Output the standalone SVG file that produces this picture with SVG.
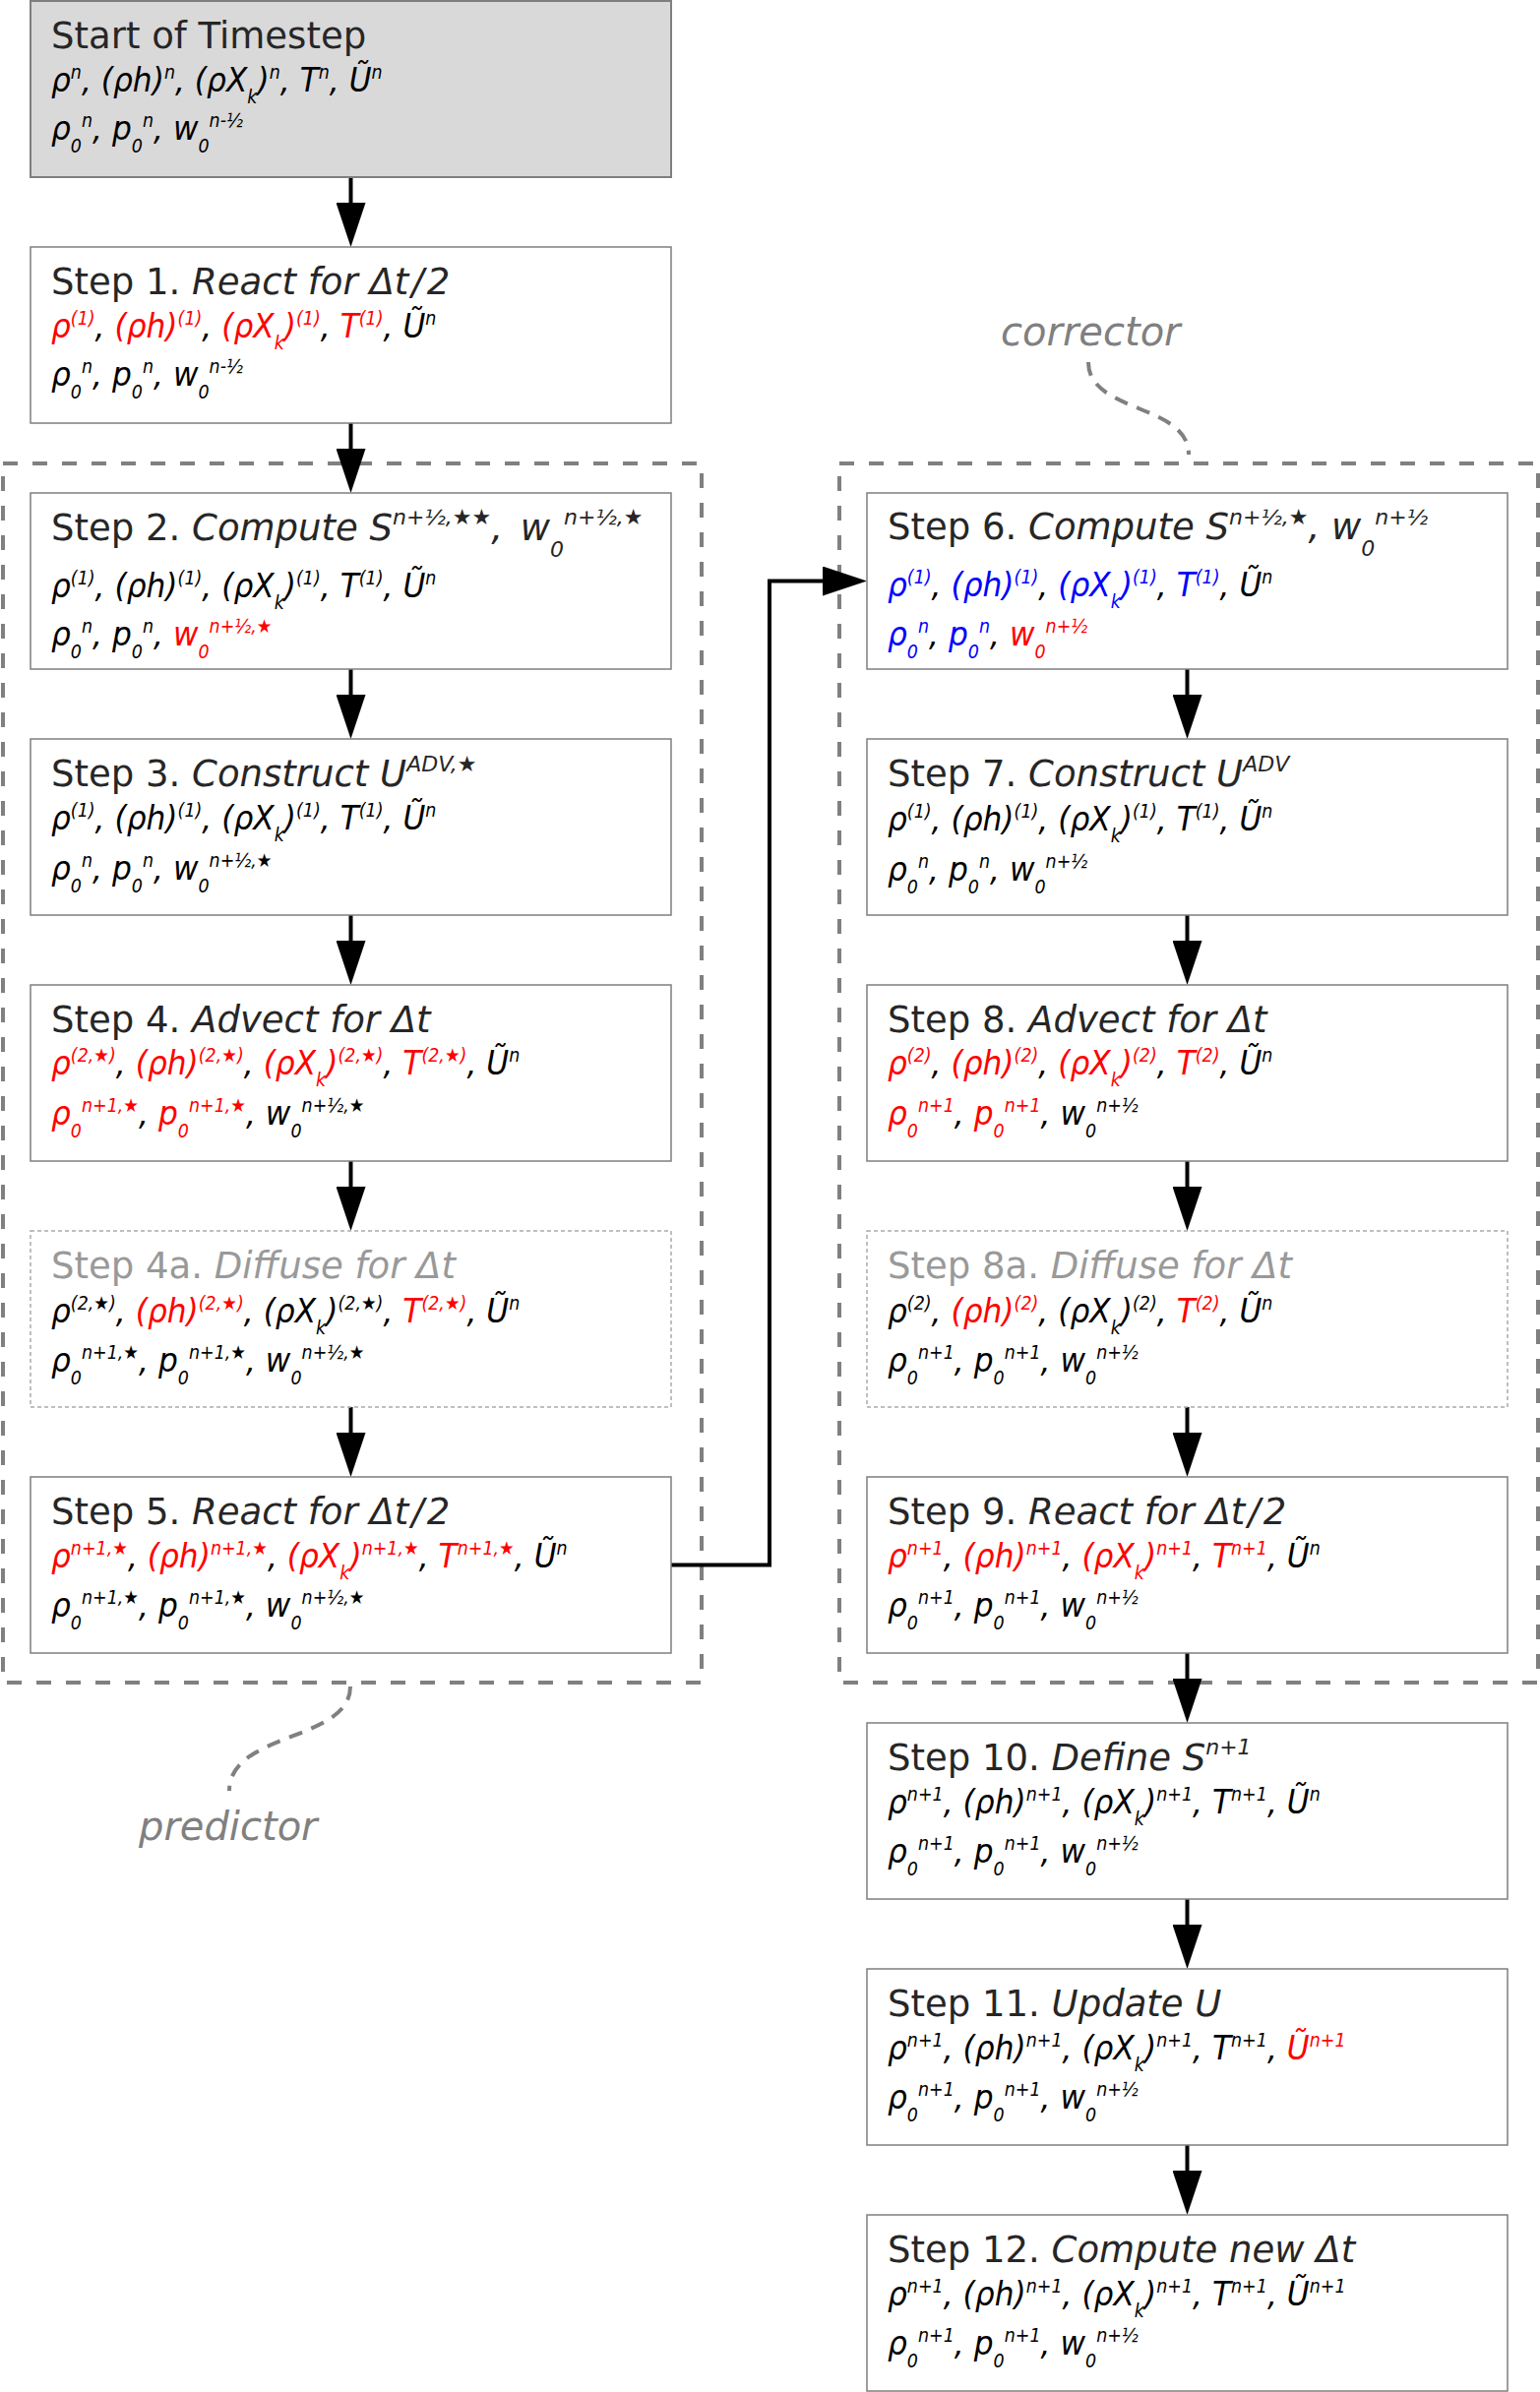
<svg xmlns="http://www.w3.org/2000/svg" width="1565" height="2431" viewBox="0 0 1565 2431">
<style>
.box{fill:#fff;stroke:#7f7f7f;stroke-width:1.5}
.start{fill:#d9d9d9;stroke:#7f7f7f;stroke-width:2}
.opt{fill:#fff;stroke:#aaa;stroke-width:1.5;stroke-dasharray:4 3}
.frame{fill:none;stroke:#808080;stroke-width:4;stroke-dasharray:15 15}
.curve{fill:none;stroke:#808080;stroke-width:4;stroke-dasharray:14 10}
.conn{fill:none;stroke:#000;stroke-width:4}
.ti{font-family:"DejaVu Sans",sans-serif;font-size:37px;fill:#262626}
.it{font-style:italic}
.gt{fill:#999}
.ts{font-size:22px}
.bd{font-family:"DejaVu Sans",sans-serif;font-size:34px;font-style:italic;fill:#000}
.s{font-size:19px}
.k{fill:#000}
.r{fill:#f00}
.u{fill:#00f}
.lbl{font-family:"DejaVu Sans",sans-serif;font-size:40px;font-style:italic;fill:#808080}
</style>
<defs>
<marker id="ah" markerUnits="userSpaceOnUse" markerWidth="46" markerHeight="30" viewBox="0 0 45 30" refX="25" refY="15" orient="auto"><path d="M0,0 L45,15 L0,30 z" fill="#000"/></marker>
</defs>

<g id="predictor">
<rect class="frame" x="3" y="471" width="710" height="1239"/>
<path class="curve" d="M356,1714 C356,1770 233,1760 233,1820"/>
<text class="lbl" x="141" y="1870">predictor</text>
</g>
<g id="corrector">
<rect class="frame" x="853" y="471" width="710" height="1239"/>
<path class="curve" d="M1106,368 C1106,420 1208,410 1208,462"/>
<text class="lbl" x="1017" y="351">corrector</text>
</g>

<g id="connectors">
<path class="conn" marker-end="url(#ah)" d="M356.5,180 V231"/>
<path class="conn" marker-end="url(#ah)" d="M356.5,430 V481"/>
<path class="conn" marker-end="url(#ah)" d="M356.5,680 V731"/>
<path class="conn" marker-end="url(#ah)" d="M356.5,930 V981"/>
<path class="conn" marker-end="url(#ah)" d="M356.5,1180 V1231"/>
<path class="conn" marker-end="url(#ah)" d="M356.5,1430 V1481"/>
<path class="conn" marker-end="url(#ah)" d="M682,1590.5 H782 V590.5 H861"/>
<path class="conn" marker-end="url(#ah)" d="M1206.5,680 V731"/>
<path class="conn" marker-end="url(#ah)" d="M1206.5,930 V981"/>
<path class="conn" marker-end="url(#ah)" d="M1206.5,1180 V1231"/>
<path class="conn" marker-end="url(#ah)" d="M1206.5,1430 V1481"/>
<path class="conn" marker-end="url(#ah)" d="M1206.5,1680 V1731"/>
<path class="conn" marker-end="url(#ah)" d="M1206.5,1930 V1981"/>
<path class="conn" marker-end="url(#ah)" d="M1206.5,2180 V2231"/>
</g>

<g id="start">
<rect class="start" x="31" y="1" width="651" height="179"/>
<text class="ti" x="52" y="49">Start of Timestep</text>
<g transform="translate(52,93) scale(0.92,1)"><text class="bd"><tspan class="k">ρ</tspan><tspan class="s k" dy="-13">n</tspan><tspan dy="13">, </tspan><tspan class="k">(ρh)</tspan><tspan class="s k" dy="-13">n</tspan><tspan dy="13">, </tspan><tspan class="k">(ρX</tspan><tspan class="s k" dy="12">k</tspan><tspan class="k" dy="-12">)</tspan><tspan class="s k" dy="-13">n</tspan><tspan dy="13">, </tspan><tspan class="k">T</tspan><tspan class="s k" dy="-13">n</tspan><tspan dy="13">, </tspan><tspan class="k">Ũ</tspan><tspan class="s k" dy="-13">n</tspan></text></g>
<g transform="translate(52,142) scale(0.92,1)"><text class="bd"><tspan class="k">ρ</tspan><tspan class="s k" dy="13">0</tspan><tspan class="s k" dy="-26">n</tspan><tspan dy="13">, </tspan><tspan class="k">p</tspan><tspan class="s k" dy="13">0</tspan><tspan class="s k" dy="-26">n</tspan><tspan dy="13">, </tspan><tspan class="k">w</tspan><tspan class="s k" dy="13">0</tspan><tspan class="s k" dy="-26">n-½</tspan></text></g>
</g>

<g id="step1">
<rect class="box" x="31" y="251" width="651" height="179"/>
<text class="ti" x="52" y="299">Step 1. <tspan class="it">React for Δt</tspan><tspan class="it" dx="3">/</tspan><tspan class="it" dx="3">2</tspan></text>
<g transform="translate(52,343) scale(0.92,1)"><text class="bd"><tspan class="r">ρ</tspan><tspan class="s r" dy="-13">(1)</tspan><tspan dy="13">, </tspan><tspan class="r">(ρh)</tspan><tspan class="s r" dy="-13">(1)</tspan><tspan dy="13">, </tspan><tspan class="r">(ρX</tspan><tspan class="s r" dy="12">k</tspan><tspan class="r" dy="-12">)</tspan><tspan class="s r" dy="-13">(1)</tspan><tspan dy="13">, </tspan><tspan class="r">T</tspan><tspan class="s r" dy="-13">(1)</tspan><tspan dy="13">, </tspan><tspan class="k">Ũ</tspan><tspan class="s k" dy="-13">n</tspan></text></g>
<g transform="translate(52,392) scale(0.92,1)"><text class="bd"><tspan class="k">ρ</tspan><tspan class="s k" dy="13">0</tspan><tspan class="s k" dy="-26">n</tspan><tspan dy="13">, </tspan><tspan class="k">p</tspan><tspan class="s k" dy="13">0</tspan><tspan class="s k" dy="-26">n</tspan><tspan dy="13">, </tspan><tspan class="k">w</tspan><tspan class="s k" dy="13">0</tspan><tspan class="s k" dy="-26">n-½</tspan></text></g>
</g>

<g id="step2">
<rect class="box" x="31" y="501" width="651" height="179"/>
<text class="ti" x="52" y="549">Step 2. <tspan class="it">Compute S</tspan><tspan class="it ts" dy="-16">n+½,★★</tspan><tspan class="it" dy="16">, </tspan><tspan class="it" dx="6">w</tspan><tspan class="it ts" dy="17">0</tspan><tspan class="it ts" dy="-33">n+½,★</tspan></text>
<g transform="translate(52,607) scale(0.92,1)"><text class="bd"><tspan class="k">ρ</tspan><tspan class="s k" dy="-13">(1)</tspan><tspan dy="13">, </tspan><tspan class="k">(ρh)</tspan><tspan class="s k" dy="-13">(1)</tspan><tspan dy="13">, </tspan><tspan class="k">(ρX</tspan><tspan class="s k" dy="12">k</tspan><tspan class="k" dy="-12">)</tspan><tspan class="s k" dy="-13">(1)</tspan><tspan dy="13">, </tspan><tspan class="k">T</tspan><tspan class="s k" dy="-13">(1)</tspan><tspan dy="13">, </tspan><tspan class="k">Ũ</tspan><tspan class="s k" dy="-13">n</tspan></text></g>
<g transform="translate(52,656) scale(0.92,1)"><text class="bd"><tspan class="k">ρ</tspan><tspan class="s k" dy="13">0</tspan><tspan class="s k" dy="-26">n</tspan><tspan dy="13">, </tspan><tspan class="k">p</tspan><tspan class="s k" dy="13">0</tspan><tspan class="s k" dy="-26">n</tspan><tspan dy="13">, </tspan><tspan class="r">w</tspan><tspan class="s r" dy="13">0</tspan><tspan class="s r" dy="-26">n+½,★</tspan></text></g>
</g>

<g id="step3">
<rect class="box" x="31" y="751" width="651" height="179"/>
<text class="ti" x="52" y="799">Step 3. <tspan class="it">Construct U</tspan><tspan class="it ts" dy="-15">ADV,★</tspan></text>
<g transform="translate(52,843) scale(0.92,1)"><text class="bd"><tspan class="k">ρ</tspan><tspan class="s k" dy="-13">(1)</tspan><tspan dy="13">, </tspan><tspan class="k">(ρh)</tspan><tspan class="s k" dy="-13">(1)</tspan><tspan dy="13">, </tspan><tspan class="k">(ρX</tspan><tspan class="s k" dy="12">k</tspan><tspan class="k" dy="-12">)</tspan><tspan class="s k" dy="-13">(1)</tspan><tspan dy="13">, </tspan><tspan class="k">T</tspan><tspan class="s k" dy="-13">(1)</tspan><tspan dy="13">, </tspan><tspan class="k">Ũ</tspan><tspan class="s k" dy="-13">n</tspan></text></g>
<g transform="translate(52,894) scale(0.92,1)"><text class="bd"><tspan class="k">ρ</tspan><tspan class="s k" dy="13">0</tspan><tspan class="s k" dy="-26">n</tspan><tspan dy="13">, </tspan><tspan class="k">p</tspan><tspan class="s k" dy="13">0</tspan><tspan class="s k" dy="-26">n</tspan><tspan dy="13">, </tspan><tspan class="k">w</tspan><tspan class="s k" dy="13">0</tspan><tspan class="s k" dy="-26">n+½,★</tspan></text></g>
</g>

<g id="step4">
<rect class="box" x="31" y="1001" width="651" height="179"/>
<text class="ti" x="52" y="1049">Step 4. <tspan class="it">Advect for Δt</tspan></text>
<g transform="translate(52,1092) scale(0.92,1)"><text class="bd"><tspan class="r">ρ</tspan><tspan class="s r" dy="-13">(2,★)</tspan><tspan dy="13">, </tspan><tspan class="r">(ρh)</tspan><tspan class="s r" dy="-13">(2,★)</tspan><tspan dy="13">, </tspan><tspan class="r">(ρX</tspan><tspan class="s r" dy="12">k</tspan><tspan class="r" dy="-12">)</tspan><tspan class="s r" dy="-13">(2,★)</tspan><tspan dy="13">, </tspan><tspan class="r">T</tspan><tspan class="s r" dy="-13">(2,★)</tspan><tspan dy="13">, </tspan><tspan class="k">Ũ</tspan><tspan class="s k" dy="-13">n</tspan></text></g>
<g transform="translate(52,1143) scale(0.92,1)"><text class="bd"><tspan class="r">ρ</tspan><tspan class="s r" dy="13">0</tspan><tspan class="s r" dy="-26">n+1,★</tspan><tspan dy="13">, </tspan><tspan class="r">p</tspan><tspan class="s r" dy="13">0</tspan><tspan class="s r" dy="-26">n+1,★</tspan><tspan dy="13">, </tspan><tspan class="k">w</tspan><tspan class="s k" dy="13">0</tspan><tspan class="s k" dy="-26">n+½,★</tspan></text></g>
</g>

<g id="step4a">
<rect class="opt" x="31" y="1251" width="651" height="179"/>
<text class="ti gt" x="52" y="1299">Step 4a. <tspan class="it">Diffuse for Δt</tspan></text>
<g transform="translate(52,1344) scale(0.92,1)"><text class="bd"><tspan class="k">ρ</tspan><tspan class="s k" dy="-13">(2,★)</tspan><tspan dy="13">, </tspan><tspan class="r">(ρh)</tspan><tspan class="s r" dy="-13">(2,★)</tspan><tspan dy="13">, </tspan><tspan class="k">(ρX</tspan><tspan class="s k" dy="12">k</tspan><tspan class="k" dy="-12">)</tspan><tspan class="s k" dy="-13">(2,★)</tspan><tspan dy="13">, </tspan><tspan class="r">T</tspan><tspan class="s r" dy="-13">(2,★)</tspan><tspan dy="13">, </tspan><tspan class="k">Ũ</tspan><tspan class="s k" dy="-13">n</tspan></text></g>
<g transform="translate(52,1394) scale(0.92,1)"><text class="bd"><tspan class="k">ρ</tspan><tspan class="s k" dy="13">0</tspan><tspan class="s k" dy="-26">n+1,★</tspan><tspan dy="13">, </tspan><tspan class="k">p</tspan><tspan class="s k" dy="13">0</tspan><tspan class="s k" dy="-26">n+1,★</tspan><tspan dy="13">, </tspan><tspan class="k">w</tspan><tspan class="s k" dy="13">0</tspan><tspan class="s k" dy="-26">n+½,★</tspan></text></g>
</g>

<g id="step5">
<rect class="box" x="31" y="1501" width="651" height="179"/>
<text class="ti" x="52" y="1549">Step 5. <tspan class="it">React for Δt</tspan><tspan class="it" dx="3">/</tspan><tspan class="it" dx="3">2</tspan></text>
<g transform="translate(52,1593) scale(0.92,1)"><text class="bd"><tspan class="r">ρ</tspan><tspan class="s r" dy="-13">n+1,★</tspan><tspan dy="13">, </tspan><tspan class="r">(ρh)</tspan><tspan class="s r" dy="-13">n+1,★</tspan><tspan dy="13">, </tspan><tspan class="r">(ρX</tspan><tspan class="s r" dy="12">k</tspan><tspan class="r" dy="-12">)</tspan><tspan class="s r" dy="-13">n+1,★</tspan><tspan dy="13">, </tspan><tspan class="r">T</tspan><tspan class="s r" dy="-13">n+1,★</tspan><tspan dy="13">, </tspan><tspan class="k">Ũ</tspan><tspan class="s k" dy="-13">n</tspan></text></g>
<g transform="translate(52,1643) scale(0.92,1)"><text class="bd"><tspan class="k">ρ</tspan><tspan class="s k" dy="13">0</tspan><tspan class="s k" dy="-26">n+1,★</tspan><tspan dy="13">, </tspan><tspan class="k">p</tspan><tspan class="s k" dy="13">0</tspan><tspan class="s k" dy="-26">n+1,★</tspan><tspan dy="13">, </tspan><tspan class="k">w</tspan><tspan class="s k" dy="13">0</tspan><tspan class="s k" dy="-26">n+½,★</tspan></text></g>
</g>

<g id="step6">
<rect class="box" x="881" y="501" width="651" height="179"/>
<text class="ti" x="902" y="548">Step 6. <tspan class="it">Compute S</tspan><tspan class="it ts" dy="-15">n+½,★</tspan><tspan class="it" dy="15">, w</tspan><tspan class="it ts" dy="17">0</tspan><tspan class="it ts" dy="-32">n+½</tspan></text>
<g transform="translate(902,606) scale(0.92,1)"><text class="bd"><tspan class="u">ρ</tspan><tspan class="s u" dy="-13">(1)</tspan><tspan dy="13">, </tspan><tspan class="u">(ρh)</tspan><tspan class="s u" dy="-13">(1)</tspan><tspan dy="13">, </tspan><tspan class="u">(ρX</tspan><tspan class="s u" dy="12">k</tspan><tspan class="u" dy="-12">)</tspan><tspan class="s u" dy="-13">(1)</tspan><tspan dy="13">, </tspan><tspan class="u">T</tspan><tspan class="s u" dy="-13">(1)</tspan><tspan dy="13">, </tspan><tspan class="k">Ũ</tspan><tspan class="s k" dy="-13">n</tspan></text></g>
<g transform="translate(902,656) scale(0.92,1)"><text class="bd"><tspan class="u">ρ</tspan><tspan class="s u" dy="13">0</tspan><tspan class="s u" dy="-26">n</tspan><tspan dy="13">, </tspan><tspan class="u">p</tspan><tspan class="s u" dy="13">0</tspan><tspan class="s u" dy="-26">n</tspan><tspan dy="13">, </tspan><tspan class="r">w</tspan><tspan class="s r" dy="13">0</tspan><tspan class="s r" dy="-26">n+½</tspan></text></g>
</g>

<g id="step7">
<rect class="box" x="881" y="751" width="651" height="179"/>
<text class="ti" x="902" y="799">Step 7. <tspan class="it">Construct U</tspan><tspan class="it ts" dy="-15">ADV</tspan></text>
<g transform="translate(902,844) scale(0.92,1)"><text class="bd"><tspan class="k">ρ</tspan><tspan class="s k" dy="-13">(1)</tspan><tspan dy="13">, </tspan><tspan class="k">(ρh)</tspan><tspan class="s k" dy="-13">(1)</tspan><tspan dy="13">, </tspan><tspan class="k">(ρX</tspan><tspan class="s k" dy="12">k</tspan><tspan class="k" dy="-12">)</tspan><tspan class="s k" dy="-13">(1)</tspan><tspan dy="13">, </tspan><tspan class="k">T</tspan><tspan class="s k" dy="-13">(1)</tspan><tspan dy="13">, </tspan><tspan class="k">Ũ</tspan><tspan class="s k" dy="-13">n</tspan></text></g>
<g transform="translate(902,895) scale(0.92,1)"><text class="bd"><tspan class="k">ρ</tspan><tspan class="s k" dy="13">0</tspan><tspan class="s k" dy="-26">n</tspan><tspan dy="13">, </tspan><tspan class="k">p</tspan><tspan class="s k" dy="13">0</tspan><tspan class="s k" dy="-26">n</tspan><tspan dy="13">, </tspan><tspan class="k">w</tspan><tspan class="s k" dy="13">0</tspan><tspan class="s k" dy="-26">n+½</tspan></text></g>
</g>

<g id="step8">
<rect class="box" x="881" y="1001" width="651" height="179"/>
<text class="ti" x="902" y="1049">Step 8. <tspan class="it">Advect for Δt</tspan></text>
<g transform="translate(902,1092) scale(0.92,1)"><text class="bd"><tspan class="r">ρ</tspan><tspan class="s r" dy="-13">(2)</tspan><tspan dy="13">, </tspan><tspan class="r">(ρh)</tspan><tspan class="s r" dy="-13">(2)</tspan><tspan dy="13">, </tspan><tspan class="r">(ρX</tspan><tspan class="s r" dy="12">k</tspan><tspan class="r" dy="-12">)</tspan><tspan class="s r" dy="-13">(2)</tspan><tspan dy="13">, </tspan><tspan class="r">T</tspan><tspan class="s r" dy="-13">(2)</tspan><tspan dy="13">, </tspan><tspan class="k">Ũ</tspan><tspan class="s k" dy="-13">n</tspan></text></g>
<g transform="translate(902,1143) scale(0.92,1)"><text class="bd"><tspan class="r">ρ</tspan><tspan class="s r" dy="13">0</tspan><tspan class="s r" dy="-26">n+1</tspan><tspan dy="13">, </tspan><tspan class="r">p</tspan><tspan class="s r" dy="13">0</tspan><tspan class="s r" dy="-26">n+1</tspan><tspan dy="13">, </tspan><tspan class="k">w</tspan><tspan class="s k" dy="13">0</tspan><tspan class="s k" dy="-26">n+½</tspan></text></g>
</g>

<g id="step8a">
<rect class="opt" x="881" y="1251" width="651" height="179"/>
<text class="ti gt" x="902" y="1299">Step 8a. <tspan class="it">Diffuse for Δt</tspan></text>
<g transform="translate(902,1344) scale(0.92,1)"><text class="bd"><tspan class="k">ρ</tspan><tspan class="s k" dy="-13">(2)</tspan><tspan dy="13">, </tspan><tspan class="r">(ρh)</tspan><tspan class="s r" dy="-13">(2)</tspan><tspan dy="13">, </tspan><tspan class="k">(ρX</tspan><tspan class="s k" dy="12">k</tspan><tspan class="k" dy="-12">)</tspan><tspan class="s k" dy="-13">(2)</tspan><tspan dy="13">, </tspan><tspan class="r">T</tspan><tspan class="s r" dy="-13">(2)</tspan><tspan dy="13">, </tspan><tspan class="k">Ũ</tspan><tspan class="s k" dy="-13">n</tspan></text></g>
<g transform="translate(902,1394) scale(0.92,1)"><text class="bd"><tspan class="k">ρ</tspan><tspan class="s k" dy="13">0</tspan><tspan class="s k" dy="-26">n+1</tspan><tspan dy="13">, </tspan><tspan class="k">p</tspan><tspan class="s k" dy="13">0</tspan><tspan class="s k" dy="-26">n+1</tspan><tspan dy="13">, </tspan><tspan class="k">w</tspan><tspan class="s k" dy="13">0</tspan><tspan class="s k" dy="-26">n+½</tspan></text></g>
</g>

<g id="step9">
<rect class="box" x="881" y="1501" width="651" height="179"/>
<text class="ti" x="902" y="1549">Step 9. <tspan class="it">React for Δt</tspan><tspan class="it" dx="3">/</tspan><tspan class="it" dx="3">2</tspan></text>
<g transform="translate(902,1593) scale(0.92,1)"><text class="bd"><tspan class="r">ρ</tspan><tspan class="s r" dy="-13">n+1</tspan><tspan dy="13">, </tspan><tspan class="r">(ρh)</tspan><tspan class="s r" dy="-13">n+1</tspan><tspan dy="13">, </tspan><tspan class="r">(ρX</tspan><tspan class="s r" dy="12">k</tspan><tspan class="r" dy="-12">)</tspan><tspan class="s r" dy="-13">n+1</tspan><tspan dy="13">, </tspan><tspan class="r">T</tspan><tspan class="s r" dy="-13">n+1</tspan><tspan dy="13">, </tspan><tspan class="k">Ũ</tspan><tspan class="s k" dy="-13">n</tspan></text></g>
<g transform="translate(902,1643) scale(0.92,1)"><text class="bd"><tspan class="k">ρ</tspan><tspan class="s k" dy="13">0</tspan><tspan class="s k" dy="-26">n+1</tspan><tspan dy="13">, </tspan><tspan class="k">p</tspan><tspan class="s k" dy="13">0</tspan><tspan class="s k" dy="-26">n+1</tspan><tspan dy="13">, </tspan><tspan class="k">w</tspan><tspan class="s k" dy="13">0</tspan><tspan class="s k" dy="-26">n+½</tspan></text></g>
</g>

<g id="step10">
<rect class="box" x="881" y="1751" width="651" height="179"/>
<text class="ti" x="902" y="1799">Step 10. <tspan class="it">Define S</tspan><tspan class="it ts" dy="-16">n+1</tspan></text>
<g transform="translate(902,1843) scale(0.92,1)"><text class="bd"><tspan class="k">ρ</tspan><tspan class="s k" dy="-13">n+1</tspan><tspan dy="13">, </tspan><tspan class="k">(ρh)</tspan><tspan class="s k" dy="-13">n+1</tspan><tspan dy="13">, </tspan><tspan class="k">(ρX</tspan><tspan class="s k" dy="12">k</tspan><tspan class="k" dy="-12">)</tspan><tspan class="s k" dy="-13">n+1</tspan><tspan dy="13">, </tspan><tspan class="k">T</tspan><tspan class="s k" dy="-13">n+1</tspan><tspan dy="13">, </tspan><tspan class="k">Ũ</tspan><tspan class="s k" dy="-13">n</tspan></text></g>
<g transform="translate(902,1893) scale(0.92,1)"><text class="bd"><tspan class="k">ρ</tspan><tspan class="s k" dy="13">0</tspan><tspan class="s k" dy="-26">n+1</tspan><tspan dy="13">, </tspan><tspan class="k">p</tspan><tspan class="s k" dy="13">0</tspan><tspan class="s k" dy="-26">n+1</tspan><tspan dy="13">, </tspan><tspan class="k">w</tspan><tspan class="s k" dy="13">0</tspan><tspan class="s k" dy="-26">n+½</tspan></text></g>
</g>

<g id="step11">
<rect class="box" x="881" y="2001" width="651" height="179"/>
<text class="ti" x="902" y="2049">Step 11. <tspan class="it">Update U</tspan></text>
<g transform="translate(902,2093) scale(0.92,1)"><text class="bd"><tspan class="k">ρ</tspan><tspan class="s k" dy="-13">n+1</tspan><tspan dy="13">, </tspan><tspan class="k">(ρh)</tspan><tspan class="s k" dy="-13">n+1</tspan><tspan dy="13">, </tspan><tspan class="k">(ρX</tspan><tspan class="s k" dy="12">k</tspan><tspan class="k" dy="-12">)</tspan><tspan class="s k" dy="-13">n+1</tspan><tspan dy="13">, </tspan><tspan class="k">T</tspan><tspan class="s k" dy="-13">n+1</tspan><tspan dy="13">, </tspan><tspan class="r">Ũ</tspan><tspan class="s r" dy="-13">n+1</tspan></text></g>
<g transform="translate(902,2143) scale(0.92,1)"><text class="bd"><tspan class="k">ρ</tspan><tspan class="s k" dy="13">0</tspan><tspan class="s k" dy="-26">n+1</tspan><tspan dy="13">, </tspan><tspan class="k">p</tspan><tspan class="s k" dy="13">0</tspan><tspan class="s k" dy="-26">n+1</tspan><tspan dy="13">, </tspan><tspan class="k">w</tspan><tspan class="s k" dy="13">0</tspan><tspan class="s k" dy="-26">n+½</tspan></text></g>
</g>

<g id="step12">
<rect class="box" x="881" y="2251" width="651" height="179"/>
<text class="ti" x="902" y="2299">Step 12. <tspan class="it">Compute new Δt</tspan></text>
<g transform="translate(902,2343) scale(0.92,1)"><text class="bd"><tspan class="k">ρ</tspan><tspan class="s k" dy="-13">n+1</tspan><tspan dy="13">, </tspan><tspan class="k">(ρh)</tspan><tspan class="s k" dy="-13">n+1</tspan><tspan dy="13">, </tspan><tspan class="k">(ρX</tspan><tspan class="s k" dy="12">k</tspan><tspan class="k" dy="-12">)</tspan><tspan class="s k" dy="-13">n+1</tspan><tspan dy="13">, </tspan><tspan class="k">T</tspan><tspan class="s k" dy="-13">n+1</tspan><tspan dy="13">, </tspan><tspan class="k">Ũ</tspan><tspan class="s k" dy="-13">n+1</tspan></text></g>
<g transform="translate(902,2393) scale(0.92,1)"><text class="bd"><tspan class="k">ρ</tspan><tspan class="s k" dy="13">0</tspan><tspan class="s k" dy="-26">n+1</tspan><tspan dy="13">, </tspan><tspan class="k">p</tspan><tspan class="s k" dy="13">0</tspan><tspan class="s k" dy="-26">n+1</tspan><tspan dy="13">, </tspan><tspan class="k">w</tspan><tspan class="s k" dy="13">0</tspan><tspan class="s k" dy="-26">n+½</tspan></text></g>
</g>
</svg>
